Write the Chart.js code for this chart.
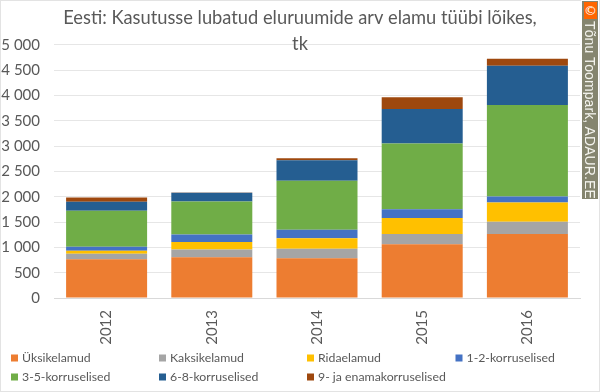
<!DOCTYPE html>
<html><head><meta charset="utf-8">
<script src="https://cdn.jsdelivr.net/npm/chart.js@4"></script>
<style>
html,body{margin:0;padding:0;background:#fff;width:600px;height:392px;overflow:hidden}
#wrap{position:absolute;left:0;top:0;width:600px;height:392px;box-sizing:border-box;border:1px solid #e3e3e3}
#c{position:absolute;left:0;top:0}
#wm{position:absolute;left:582px;top:1px;width:16px;height:198px;background:#85856f;box-shadow:0 0 0 1px #fff}
#copy{position:absolute;left:2px;top:1px;width:13px;height:17px;background:#ff6600;color:#fff;font:13px "DejaVu Sans";text-align:center;line-height:17px}
#mark{position:absolute;left:1px;top:20px;width:14px;height:177px;overflow:hidden}
#mark span{position:absolute;left:14px;top:0;transform-origin:0 0;transform:rotate(90deg);white-space:nowrap;color:#f4f4ee;font:14px/14px "Liberation Sans";letter-spacing:.1px;display:block}
</style></head><body>
<div id="wrap"></div>
<canvas id="c" width="600" height="392"></canvas>
<div id="wm"><div id="copy">©</div><div id="mark"><span>Tõnu Toompark, ADAUR.EE</span></div></div>
<script>
const categories=["2012","2013","2014","2015","2016"];
const uksikelamud=[765,805,785,1060,1265];
const kaksikelamud=[110,155,190,205,240];
const ridaelamud=[60,145,205,315,380];
const korrus12=[80,150,170,175,120];
const korrus35=[710,650,965,1300,1810];
const korrus68=[175,175,405,680,775];
const korrus9=[85,5,40,230,140];
const seriesNames=["Üksikelamud","Kaksikelamud","Ridaelamud","1-2-korruselised","3-5-korruselised","6-8-korruselised","9- ja enamakorruselised"];
const seriesValues=[uksikelamud,kaksikelamud,ridaelamud,korrus12,korrus35,korrus68,korrus9];
const seriesColors=["#ed7d31","#a5a5a5","#ffc000","#4472c4","#70ad47","#255e91","#9e480e"];
const yTicks=[0,500,1000,1500,2000,2500,3000,3500,4000,4500,5000];
const titleLines=["Eesti: Kasutusse lubatud eluruumide arv elamu tüübi lõikes,","tk"];
const FONT="Lato, Carlito, 'Open Sans', sans-serif";
Chart.defaults.animation=false;
new Chart(document.getElementById('c'),{
 type:'bar',
 data:{labels:categories,datasets:seriesNames.map((n,i)=>({label:n,data:seriesValues[i],backgroundColor:seriesColors[i],borderWidth:0,categoryPercentage:0.77,barPercentage:1}))},
 options:{
  responsive:false,maintainAspectRatio:false,
  layout:{padding:0},
  scales:{
   x:{stacked:true,grid:{display:false},border:{color:'#d9d9d9'},
      ticks:{color:'#595959',font:{family:FONT,size:15},maxRotation:90,minRotation:90,padding:4},
      afterFit(s){s.height=94;}},
   y:{stacked:true,min:0,max:5000,afterBuildTicks(s){s.ticks=yTicks.map(v=>({value:v}));},
      grid:{color:'#e6e6e6',drawTicks:false},border:{display:false},
      ticks:{color:'#595959',font:{family:FONT,size:15},padding:14,
        callback:v=>String(v).replace(/\B(?=(\d{3})+$)/g,' ')},
      afterFit(s){s.width=54;}},
   spacer:{position:'right',grid:{display:false},border:{display:false},ticks:{display:false},afterFit(s){s.width=20;}}
  },
  plugins:{
   title:{display:true,text:titleLines,color:'#595959',align:'center',font:{family:FONT,size:18.3,weight:'normal',lineHeight:1.42},padding:{top:5,bottom:-12}},
   legend:{display:false},
   tooltip:{enabled:false}
  }
 },
 plugins:[{id:'legendGrid',afterDraw(ch){
   const c=ch.ctx,cols=[11,159,307,455.5],rows=[358,377];
   c.save();c.font='12.3px '+FONT;c.textBaseline='middle';
   seriesNames.forEach((n,i)=>{
     const x=i<4?cols[i]:cols[i-4],y=i<4?rows[0]:rows[1];
     c.fillStyle=seriesColors[i];c.fillRect(x,y-3.5,7,7);
     c.fillStyle='#595959';c.fillText(n,x+11,y);
   });
   c.restore();
 }}]
});
</script></body></html>
